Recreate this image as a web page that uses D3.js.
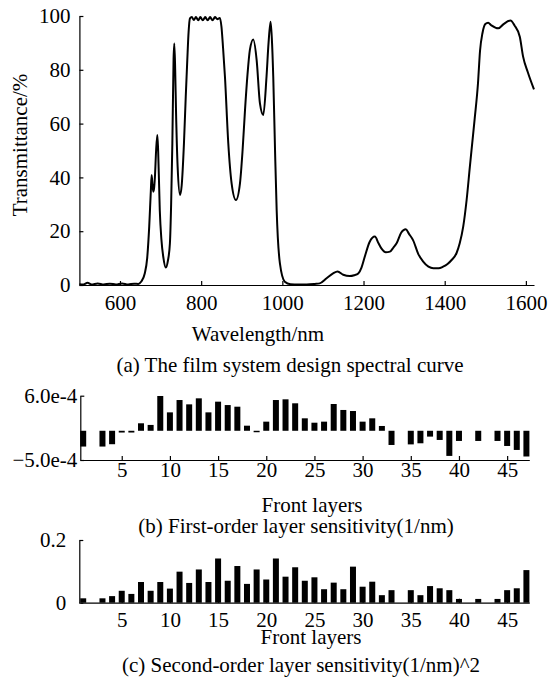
<!DOCTYPE html>
<html>
<head>
<meta charset="utf-8">
<script src="https://cdn.jsdelivr.net/npm/d3@7"></script>
<style>
  body { margin: 0; background: #fff; }
  text { font-family: "Liberation Serif", "Times New Roman", serif; }
</style>
</head>
<body>
<div id="chart"></div>
<script>
// (a) spectral curve
var wavelength = [500, 510, 520, 530, 545, 560, 575, 590, 605, 620, 635, 645, 652, 661, 667, 672, 676, 678, 680, 682,
  684, 686, 689, 692, 694, 698, 702, 706.6, 713, 718, 723, 726, 729, 732, 733.8, 736, 738, 742, 748, 752,
  757.6, 762, 765.8, 769, 772.4, 777, 782, 787, 793, 798, 804, 810, 816, 822, 828, 834, 840, 846, 850, 854,
  858.6, 866.8, 875, 885.7, 895.6, 902, 908, 914, 920, 928.3, 936.7, 944.8, 953, 961, 966, 971, 974, 977.6, 982, 986,
  994, 1006, 1020, 1040, 1060, 1080, 1092, 1109, 1125, 1136, 1150, 1166, 1177, 1187, 1195, 1203, 1215, 1228, 1237, 1244,
  1255, 1265, 1274, 1281.5, 1293, 1304, 1312, 1322, 1335, 1347, 1360, 1372, 1385, 1396, 1407, 1417, 1429, 1437, 1445.6, 1454,
  1462, 1468, 1474, 1482, 1487, 1493, 1500, 1507, 1515, 1532, 1545, 1562, 1572, 1585, 1593, 1605, 1620];
var transmittance = [0.3, 0.2, 0.8, 0.2, 0.6, 0.2, 0.5, 0.2, 0.6, 0.2, 0.5, 0.4, 1.2, 4.3, 10, 21.7, 35, 40.9, 37, 34.7,
  36, 40, 50, 55.8, 50, 27.9, 17, 10.5, 6.5, 9, 15.5, 30, 52.7, 84, 89.8, 80, 65, 44, 33.5, 37,
  52.7, 70, 83.6, 94, 99.1, 99.6, 98.5, 99.6, 98.4, 99.6, 98.4, 99.6, 98.4, 99.6, 98.4, 99.6, 98.8, 99.3, 96, 88,
  77.4, 52.7, 37.8, 31.6, 37.8, 50, 65, 78, 87.4, 91.3, 83.6, 67.5, 63.2, 77.4, 90, 97.9, 92, 77.4, 50, 27.9,
  8, 1.2, 0.3, 0.2, 0.2, 0.4, 0.6, 2.5, 4.3, 5, 3.8, 3.3, 3.6, 4.3, 6.5, 10.5, 16, 18, 15.5, 13.6,
  12.2, 12.4, 14, 15.5, 19.5, 20.7, 19, 16.7, 11.5, 8.7, 6.8, 6.2, 6.2, 6.8, 7.8, 9.3, 11.8, 15.5, 21.7, 31.6,
  44, 53, 62, 75, 87, 93.6, 97, 97.5, 96.5, 95.4, 97, 98.3, 96.5, 92.3, 85, 79, 72.7];
var wlTicks = [600, 800, 1000, 1200, 1400, 1600];
var tTicks = [0, 20, 40, 60, 80, 100];

// (b), (c) layer sensitivities, layers 1..47
var layers = d3.range(1, 48);
var firstOrder = [-2.7e-4, 0, -2.7e-4, -2.3e-4, -0.3e-4, -0.3e-4, 1.28e-4, 1.0e-4, 5.95e-4, 3.15e-4,
  5.26e-4, 4.52e-4, 5.55e-4, 3.15e-4, 4.98e-4, 4.4e-4, 4.12e-4, 0.87e-4, -0.25e-4, 1.56e-4,
  5.26e-4, 5.38e-4, 4.7e-4, 2.13e-4, 1.38e-4, 1.56e-4, 4.58e-4, 3.56e-4, 3.38e-4, 1.56e-4,
  2.13e-4, 0.82e-4, -2.43e-4, 0, -2.33e-4, -2.14e-4, -1.0e-4, -1.57e-4, -4.3e-4, -1.74e-4,
  0, -1.74e-4, 0, -1.74e-4, -2.6e-4, -3.28e-4, -4.4e-4];
var secondOrder = [0.014, 0, 0.014, 0.021, 0.038, 0.028, 0.066, 0.038, 0.066, 0.045,
  0.099, 0.063, 0.106, 0.066, 0.141, 0.07, 0.117, 0.06, 0.106, 0.074,
  0.141, 0.083, 0.113, 0.07, 0.081, 0.043, 0.064, 0.043, 0.115, 0.051,
  0.067, 0.024, 0.04, 0, 0.04, 0.024, 0.053, 0.046, 0.04, 0.012,
  0, 0.012, 0, 0.012, 0.04, 0.046, 0.104];
var layerTicks = [5, 10, 15, 20, 25, 30, 35, 40, 45];
var firstTicks = [6e-4, -5e-4];
var firstTickLabels = ["6.0e-4", "\u22125.0e-4"];
var secondTicks = [0, 0.2];
var secondTickLabels = ["0", "0.2"];

var svgWidth = 548;
var svgHeight = 692;
var fontSize = 21;

var svg = d3.select("#chart")
  .append("svg")
  .attr("width", svgWidth)
  .attr("height", svgHeight);

svg.append("rect").attr("width", svgWidth).attr("height", svgHeight).attr("fill", "#fff");

function styleAxis(g) {
  g.attr("font-family", "Liberation Serif, Times New Roman, serif")
    .attr("font-size", fontSize);
  g.selectAll("path, line").attr("stroke", "#000").attr("stroke-width", 1.2);
  g.selectAll("text").attr("fill", "#000");
}

function addText(x, y, str) {
  return svg.append("text")
    .attr("x", x).attr("y", y)
    .attr("text-anchor", "middle")
    .attr("font-size", fontSize)
    .text(str);
}

// ---------- (a) ----------
var xA = d3.scaleLinear().domain([500, 1620]).range([79.4, 534]);
var yA = d3.scaleLinear().domain([0, 100]).range([285, 16]);

svg.append("g")
  .attr("transform", "translate(0,285)")
  .call(d3.axisBottom(xA).tickValues(wlTicks).tickSize(-4).tickSizeOuter(0).tickPadding(10)
    .tickFormat(d3.format("d")))
  .call(styleAxis);

svg.append("g")
  .attr("transform", "translate(79.4,0)")
  .call(d3.axisLeft(yA).tickValues(tTicks).tickSize(-4).tickSizeOuter(0).tickPadding(9))
  .call(styleAxis);

var line = d3.line()
  .x(function(d, i) { return xA(wavelength[i]); })
  .y(function(d) { return yA(d); })
  .curve(d3.curveMonotoneX);

svg.append("path")
  .datum(transmittance)
  .attr("d", line)
  .attr("fill", "none")
  .attr("stroke", "#000")
  .attr("stroke-width", 2);

svg.append("text")
  .attr("transform", "translate(27,145) rotate(-90)")
  .attr("text-anchor", "middle")
  .attr("font-size", fontSize)
  .text("Transmittance/%");

addText(258, 341, "Wavelength/nm");
addText(290, 372, "(a) The film system design spectral curve");

// ---------- (b) ----------
var xL = d3.scaleLinear().domain([0.7, 47.3]).range([80.3, 529.3]);
var yB = d3.scaleLinear().domain([-5e-4, 6e-4]).range([460, 395.7]);
var barW = 6;

svg.append("g")
  .selectAll("rect")
  .data(firstOrder)
  .enter()
  .append("rect")
  .attr("x", function(d, i) { return xL(layers[i]) - barW / 2; })
  .attr("y", function(d) { return Math.min(yB(0), yB(d)); })
  .attr("width", barW)
  .attr("height", function(d) { return Math.abs(yB(d) - yB(0)); })
  .attr("fill", "#000");

svg.append("g")
  .attr("transform", "translate(0,460)")
  .call(d3.axisBottom(xL).tickValues(layerTicks).tickSize(-4).tickSizeOuter(0).tickPadding(2))
  .call(styleAxis);

svg.append("g")
  .attr("transform", "translate(80.3,0)")
  .call(d3.axisLeft(yB).tickValues(firstTicks).tickSize(-4).tickSizeOuter(0).tickPadding(3)
    .tickFormat(function(d, i) { return firstTickLabels[i]; }))
  .call(styleAxis);

addText(312, 512, "Front layers");
addText(296, 533, "(b)  First-order layer sensitivity(1/nm)");

// ---------- (c) ----------
var yC = d3.scaleLinear().domain([0, 0.2]).range([602.7, 540]);

svg.append("g")
  .selectAll("rect")
  .data(secondOrder)
  .enter()
  .append("rect")
  .attr("x", function(d, i) { return xL(layers[i]) - barW / 2; })
  .attr("y", function(d) { return yC(d); })
  .attr("width", barW)
  .attr("height", function(d) { return yC(0) - yC(d); })
  .attr("fill", "#000");

svg.append("g")
  .attr("transform", "translate(0,602.7)")
  .call(d3.axisBottom(xL).tickValues(layerTicks).tickSize(-4).tickSizeOuter(0).tickPadding(9))
  .call(styleAxis);

svg.append("g")
  .attr("transform", "translate(79.3,0)")
  .call(d3.axisLeft(yC).tickValues(secondTicks).tickSize(-4).tickSizeOuter(0).tickPadding(13)
    .tickFormat(function(d, i) { return secondTickLabels[i]; }))
  .call(styleAxis);

addText(311, 644, "Front layers");
addText(301, 672, "(c)  Second-order layer sensitivity(1/nm)^2");
</script>
</body>
</html>
